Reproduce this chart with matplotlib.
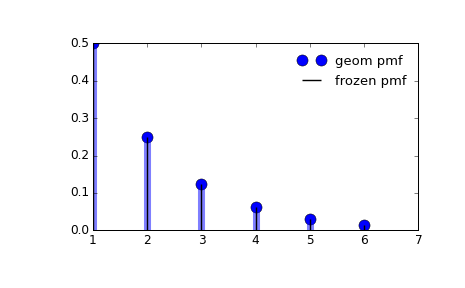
import matplotlib
matplotlib.use("Agg")
import matplotlib.pyplot as plt

plt.style.use('classic')
plt.rcParams['font.size'] = 12

x = [1, 2, 3, 4, 5, 6]
pmf = [0.5, 0.25, 0.125, 0.0625, 0.03125, 0.015625]

DPI = 72.66
fig = plt.figure(figsize=(465 / DPI, 288 / DPI), dpi=DPI)
ax = fig.add_axes([0.2, 0.2, 0.7, 0.65])

ax.plot(x, pmf, 'bo', ms=11, label='geom pmf')
ax.vlines(x, 0, pmf, colors='b', lw=7, alpha=0.5)
ax.vlines(x, 0, pmf, colors='k', linestyles='-', lw=1.4, label='frozen pmf')
ax.legend(loc='best', frameon=False, fontsize=13)
ax.set_xlim(1, 7)
ax.set_ylim(0, 0.5)
ax.set_yticks([0.0, 0.1, 0.2, 0.3, 0.4, 0.5])

fig.savefig('out.png', dpi=DPI)
